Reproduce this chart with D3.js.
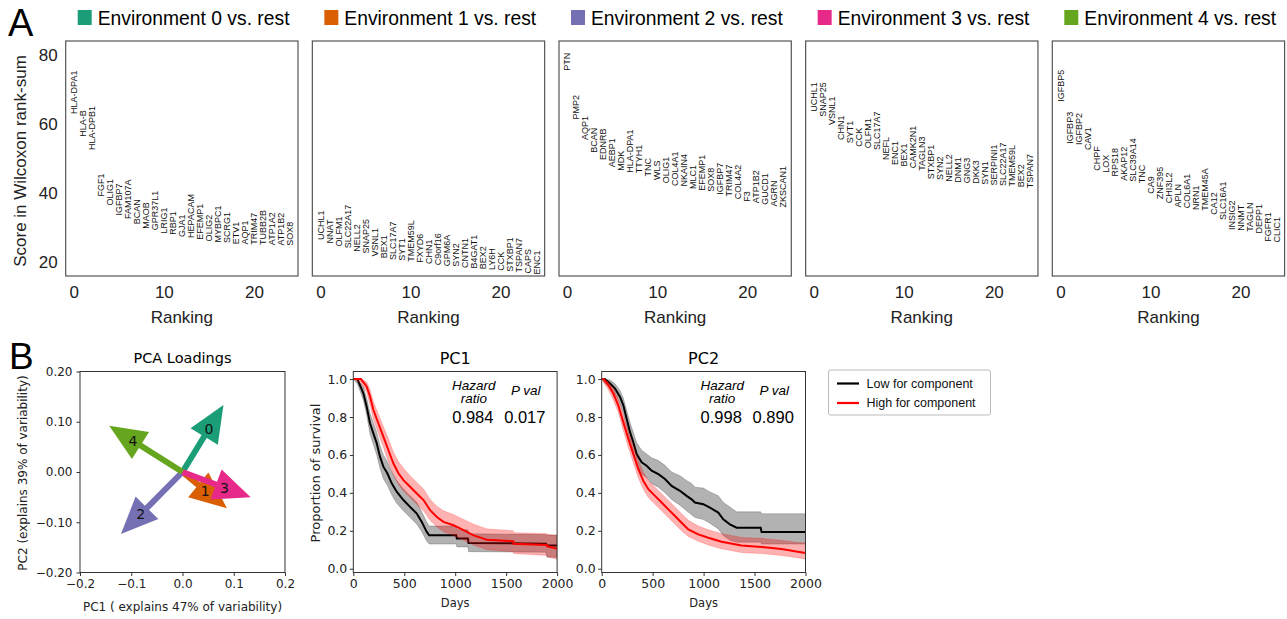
<!DOCTYPE html>
<html><head><meta charset="utf-8">
<script src="https://cdn.jsdelivr.net/npm/d3@7"></script>
<style>body{margin:0;background:#fff} svg{display:block}</style>
</head><body>
<script>
// ---------- DATA ----------
const envTitles = ["Environment 0 vs. rest","Environment 1 vs. rest","Environment 2 vs. rest","Environment 3 vs. rest","Environment 4 vs. rest"];
const envColors = ["#1b9e77","#d95f02","#7570b3","#e7298a","#66a61e"];

const genes0 = ["HLA-DPA1","HLA-B","HLA-DPB1","FGF1","OLIG1","IGFBP7","FAM107A","BCAN","MAOB","GPR37L1","LRIG1","RBP1","GJA1","HEPACAM","EFEMP1","OLIG2","MYBPC1","SCRG1","ETV1","AQP1","TRIM47","TUBB2B","ATP1A2","ATP1B2","SOX8"];
const scores0 = [62.9,56.3,52.4,38.9,36.3,33.4,32.4,30.9,29.6,29.1,28.2,27.8,27.2,26.9,26.4,25.9,25.6,25.4,25.1,25.0,24.9,24.85,24.8,24.7,24.6];
const genes1 = ["UCHL1","NNAT","OLFM1","SLC22A17","NELL2","SNAP25","VSNL1","BEX1","SLC17A7","SYT1","TMEM59L","FXYD6","CHN1","C9orf16","GPM6A","SYN2","CNTN1","B4GAT1","BEX2","LY6H","CCK","STXBP1","TSPAN7","CAPS","ENC1"];
const scores1 = [26.3,25.3,24.4,23.9,22.9,22.4,21.5,21.0,20.5,20.3,20.0,19.7,19.3,19.0,18.7,18.5,18.2,18.0,17.8,17.6,17.4,17.1,16.9,16.6,16.3];
const genes2 = ["PTN","PMP2","AQP1","BCAN","EDNRB","AEBP1","MDK","HLA-DPA1","TTYH1","TNC","WLS","OLIG1","COL4A1","NKAIN4","MLC1","EFEMP1","SOX8","IGFBP7","TRIM47","COL4A2","F3","ATP1B2","GUCD1","AGRN","ZKSCAN1"];
const scores2 = [75.4,61.3,55.3,51.6,49.5,47.4,46.4,45.8,45.7,44.7,43.7,42.8,42.0,41.8,41.1,40.6,40.3,39.4,38.9,38.1,37.4,37.0,36.5,36.0,35.7];
const genes3 = ["UCHL1","SNAP25","VSNL1","CHN1","SYT1","CCK","OLFM1","SLC17A7","NEFL","ENC1","BEX1","CAMK2N1","TAGLN3","STXBP1","SYN2","NELL2","DNM1","GNG3","DKK3","SYN1","SERPINI1","SLC22A17","TMEM59L","BEX2","TSPAN7"];
const scores3 = [63.5,62.1,59.7,55.3,54.4,53.4,52.9,52.4,49.5,48.1,47.6,47.1,46.4,43.9,43.7,43.2,42.9,42.8,42.6,42.3,42.1,42.0,41.8,41.6,41.3];
const genes4 = ["IGFBP5","IGFBP3","IGFBP2","CAV1","CHPF","LOX","RPS18","AKAP12","SLC39A14","TNC","CA9","ZNF395","CHI3L2","APLN","COL6A1","NRN1","TMEM45A","CA12","SLC16A1","INSIG2","NNMT","TAGLN","DEPP1","FGFR1","CLIC1"];
const scores4 = [66.4,54.2,53.9,52.4,46.4,45.8,44.7,43.5,43.2,42.8,39.7,38.1,37.0,35.7,35.5,35.0,34.8,33.6,32.1,29.2,29.0,28.7,28.2,25.8,25.6];

const rankTicks = [0,10,20];
const scoreTicks = [20,40,60,80];

// PCA loadings (PC1, PC2) per environment
const loadLabels = ["0","1","2","3","4"];
const loadPC1 = [0.0423, 0.0308, -0.0693, 0.0654, -0.082];
const loadPC2 = [0.0707, -0.0257, -0.0713, -0.0248, 0.0529];
const pcaTicksX = [-0.2,-0.1,0,0.1,0.2];
const pcaTicksY = [-0.2,-0.1,0,0.1,0.2];

// Survival (Kaplan-Meier) curves
const pc1LowDays = [0,40,98,131,164,197,230,262,295,334,377,426,492,557,623,672,721,745,1010,1016,1125,1131,1890,1900,2000];
const pc1LowSurv = [1,1,0.926,0.855,0.767,0.714,0.661,0.591,0.538,0.503,0.45,0.406,0.362,0.326,0.291,0.247,0.194,0.176,0.176,0.159,0.159,0.136,0.132,0.123,0.123];
const pc1LowLo   = [1,0.975,0.89,0.81,0.71,0.655,0.60,0.53,0.475,0.44,0.39,0.345,0.305,0.27,0.235,0.195,0.145,0.13,0.13,0.115,0.115,0.09,0.087,0.06,0.06];
const pc1LowHi   = [1,1,0.96,0.90,0.82,0.77,0.72,0.65,0.60,0.565,0.51,0.465,0.42,0.385,0.35,0.30,0.245,0.225,0.225,0.205,0.205,0.185,0.18,0.178,0.178];
const pc1HighDays = [0,75,131,164,197,246,295,344,393,443,492,557,623,689,754,820,885,984,1082,1180,1312,1570,1574,1900,1902,2000];
const pc1HighSurv = [1,1,0.961,0.908,0.838,0.767,0.697,0.626,0.556,0.503,0.467,0.432,0.397,0.362,0.309,0.273,0.247,0.229,0.203,0.176,0.153,0.145,0.132,0.125,0.118,0.106];
const pc1HighLo   = [1,0.98,0.93,0.865,0.79,0.715,0.64,0.565,0.495,0.445,0.41,0.375,0.34,0.305,0.255,0.22,0.195,0.175,0.15,0.125,0.10,0.09,0.08,0.07,0.065,0.05];
const pc1HighHi   = [1,1,0.985,0.945,0.88,0.815,0.75,0.685,0.615,0.565,0.53,0.49,0.455,0.42,0.365,0.33,0.305,0.285,0.26,0.235,0.21,0.20,0.19,0.185,0.18,0.175];

const pc2LowDays = [0,30,82,131,180,212,245,278,310,343,392,441,490,556,621,686,768,833,882,915,997,1062,1144,1193,1258,1324,1560,1569,2000];
const pc2LowSurv = [1,1,0.977,0.95,0.906,0.862,0.791,0.72,0.667,0.605,0.561,0.543,0.517,0.499,0.473,0.437,0.411,0.384,0.366,0.349,0.34,0.322,0.296,0.26,0.234,0.216,0.216,0.193,0.193];
const pc2LowLo   = [1,0.98,0.955,0.92,0.87,0.82,0.745,0.67,0.61,0.545,0.50,0.48,0.45,0.43,0.40,0.365,0.335,0.305,0.285,0.27,0.26,0.24,0.21,0.175,0.15,0.14,0.14,0.13,0.13];
const pc2LowHi   = [1,1,0.995,0.975,0.94,0.90,0.835,0.77,0.72,0.665,0.625,0.605,0.585,0.57,0.545,0.51,0.49,0.465,0.45,0.43,0.425,0.405,0.385,0.35,0.325,0.30,0.30,0.29,0.29];
const pc2HighDays = [0,20,65,114,163,212,261,310,359,408,458,523,588,654,719,784,850,948,1046,1176,1373,1569,1765,1895,2000];
const pc2HighSurv = [1,1,0.968,0.924,0.862,0.773,0.685,0.605,0.526,0.464,0.419,0.384,0.349,0.313,0.278,0.242,0.207,0.181,0.163,0.142,0.122,0.115,0.104,0.092,0.083];
const pc2HighLo   = [1,0.98,0.945,0.89,0.825,0.73,0.64,0.56,0.48,0.42,0.375,0.34,0.305,0.27,0.235,0.20,0.17,0.145,0.125,0.105,0.085,0.08,0.07,0.06,0.05];
const pc2HighHi   = [1,1,0.985,0.95,0.895,0.81,0.725,0.65,0.57,0.51,0.465,0.43,0.395,0.36,0.325,0.29,0.255,0.225,0.205,0.185,0.165,0.16,0.15,0.14,0.135];

const survStats = [
  {title:"PC1", hr:"0.984", p:"0.017"},
  {title:"PC2", hr:"0.998", p:"0.890"}
];
const dayTicks = [0,500,1000,1500,2000];
const survTicks = [0,0.2,0.4,0.6,0.8,1.0];
const legendLabels = ["Low for component","High for component"];
const legendColors = ["#000000","#ff0000"];

// ---------- DRAW ----------
const W = 1287, H = 619;
const SANS = "'Liberation Sans', Arial, Helvetica, sans-serif";
const DJ = "'DejaVu Sans', sans-serif";
const svg = d3.select("body").append("svg").attr("width", W).attr("height", H);

// Panel letters
svg.append("text").attr("x", 8).attr("y", 36).attr("font-family", SANS).attr("font-size", 38).text("A");
svg.append("text").attr("x", 9).attr("y", 369).attr("font-family", SANS).attr("font-size", 37).text("B");

// ----- Section A -----
const geneSets = [genes0, genes1, genes2, genes3, genes4];
const scoreSets = [scores0, scores1, scores2, scores3, scores4];
const pTop = 41, pBot = 276, pW = 232.3, pStep = 246.65, pLeft0 = 65.7;
const yScore = d3.scaleLinear().domain([15.85, 84.06]).range([pBot, pTop]);

geneSets.forEach((genes, p) => {
  const left = pLeft0 + p * pStep;
  const x = d3.scaleLinear().domain([-0.9, 24.9]).range([left, left + pW]);
  const g = svg.append("g");
  g.append("rect").attr("x", left + 12).attr("y", 10).attr("width", 14).attr("height", 15).attr("fill", envColors[p]);
  g.append("text").attr("x", left + 32).attr("y", 24.5).attr("font-family", SANS).attr("font-size", 19.3).attr("fill", "#000").text(envTitles[p]);
  g.append("rect").attr("x", left).attr("y", pTop).attr("width", pW).attr("height", pBot - pTop)
    .attr("fill", "none").attr("stroke", "#555").attr("stroke-width", 1.2);
  const ax = g.append("g").attr("transform", `translate(0,${pBot})`)
    .call(d3.axisBottom(x).tickValues(rankTicks).tickSize(0).tickPadding(10).tickFormat(d3.format("d")));
  ax.select(".domain").remove();
  ax.selectAll("text").attr("font-family", SANS).attr("font-size", 17).attr("fill", "#222");
  g.append("text").attr("x", left + pW / 2).attr("y", 323).attr("text-anchor", "middle")
    .attr("font-family", SANS).attr("font-size", 17).attr("fill", "#222").text("Ranking");
  if (p === 0) {
    const ay = g.append("g").attr("transform", `translate(${left},0)`)
      .call(d3.axisLeft(yScore).tickValues(scoreTicks).tickSize(0).tickPadding(8).tickFormat(d3.format("d")));
    ay.select(".domain").remove();
    ay.selectAll("text").attr("font-family", SANS).attr("font-size", 17).attr("fill", "#222");
    g.append("text").attr("transform", `translate(20,161) rotate(-90)`).attr("text-anchor", "middle")
      .attr("dy", "0.35em").attr("font-family", SANS).attr("font-size", 17).attr("fill", "#222")
      .text("Score in Wilcoxon rank-sum");
  }
  g.selectAll("text.gene").data(genes).join("text").attr("class", "gene")
    .attr("transform", (d, i) => `translate(${x(i)},${yScore(scoreSets[p][i])}) rotate(-90)`)
    .attr("dy", "0.35em").attr("text-anchor", "start")
    .attr("font-family", SANS).attr("font-size", 9).attr("fill", "#111").text(d => d);
});

// ----- Section B: PCA loadings -----
const bTop = 371.5, bBot = 572.5;
const pcaX = d3.scaleLinear().domain([-0.2, 0.2]).range([80, 285]);
const pcaY = d3.scaleLinear().domain([-0.2, 0.2]).range([bBot, bTop]);
{
  const g = svg.append("g");
  const axx = g.append("g").attr("transform", `translate(0,${bBot})`)
    .call(d3.axisBottom(pcaX).tickValues(pcaTicksX).tickSize(3.5).tickPadding(3).tickFormat(d3.format(".1f")));
  const axy = g.append("g").attr("transform", `translate(80,0)`)
    .call(d3.axisLeft(pcaY).tickValues(pcaTicksY).tickSize(3.5).tickPadding(4).tickFormat(d3.format(".2f")));
  [axx, axy].forEach(a => { a.select(".domain").remove(); a.selectAll("text").attr("font-family", DJ).attr("font-size", 12).attr("fill", "#222"); a.selectAll("line").attr("stroke", "#333"); });
  g.append("rect").attr("x", 80).attr("y", bTop).attr("width", 205).attr("height", bBot - bTop)
    .attr("fill", "none").attr("stroke", "#333").attr("stroke-width", 1);
  g.append("text").attr("x", 182.5).attr("y", 363).attr("text-anchor", "middle").attr("font-family", DJ).attr("font-size", 14.5).text("PCA Loadings");
  g.append("text").attr("x", 182.5).attr("y", 611).attr("text-anchor", "middle").attr("font-family", DJ).attr("font-size", 12).attr("fill", "#222").text("PC1 ( explains 47% of variability)");
  g.append("text").attr("transform", "translate(23,473) rotate(-90)").attr("text-anchor", "middle").attr("dy", "0.35em")
    .attr("font-family", DJ).attr("font-size", 12).attr("fill", "#222").text("PC2 (explains 39% of variability)");

  const ox = pcaX(0), oy = pcaY(0);
  const shaftHW = 3, headHW = 16, headLen = 37;
  loadLabels.forEach((lab, i) => {
    const bx = pcaX(loadPC1[i]), by = pcaY(loadPC2[i]);
    const dx = bx - ox, dy = by - oy, L = Math.hypot(dx, dy);
    const ux = dx / L, uy = dy / L, px = -uy, py = ux;
    const tip = [bx + ux * headLen, by + uy * headLen];
    const pts = [
      [ox + px * shaftHW, oy + py * shaftHW],
      [bx + px * shaftHW, by + py * shaftHW],
      [bx + px * headHW, by + py * headHW],
      tip,
      [bx - px * headHW, by - py * headHW],
      [bx - px * shaftHW, by - py * shaftHW],
      [ox - px * shaftHW, oy - py * shaftHW]
    ];
    g.append("polygon").attr("points", pts.map(d => d.join(",")).join(" ")).attr("fill", envColors[i]);
  });
  loadLabels.forEach((lab, i) => {
    const bx = pcaX(loadPC1[i]), by = pcaY(loadPC2[i]);
    const dx = bx - ox, dy = by - oy, L = Math.hypot(dx, dy);
    g.append("text").attr("x", bx + dx / L * 9).attr("y", by + dy / L * 9).attr("dy", "0.36em")
      .attr("text-anchor", "middle").attr("font-family", DJ).attr("font-size", 14).attr("fill", "#111").text(lab);
  });
}

// ----- Section B: survival -----
const survPanels = [
  {left: 353.3, low: [pc1LowDays, pc1LowSurv, pc1LowLo, pc1LowHi], high: [pc1HighDays, pc1HighSurv, pc1HighLo, pc1HighHi]},
  {left: 601.7, low: [pc2LowDays, pc2LowSurv, pc2LowLo, pc2LowHi], high: [pc2HighDays, pc2HighSurv, pc2HighLo, pc2HighHi]}
];
survPanels.forEach((sp, k) => {
  const sw = 203.8;
  const x = d3.scaleLinear().domain([0, 2000]).range([sp.left, sp.left + sw]);
  const y = d3.scaleLinear().domain([-0.02, 1.04]).range([bBot, bTop]);
  const g = svg.append("g");
  const clipId = "clip" + k;
  g.append("clipPath").attr("id", clipId).append("rect").attr("x", sp.left).attr("y", bTop).attr("width", sw).attr("height", bBot - bTop);
  const plot = g.append("g").attr("clip-path", `url(#${clipId})`);
  const drawGroup = (arr, color) => {
    const [days, surv, lo, hi] = arr;
    const rows = days.map((d, i) => ({d, s: surv[i], lo: lo[i], hi: hi[i]}));
    const area = d3.area().x(r => x(r.d)).y0(r => y(r.lo)).y1(r => y(r.hi));
    const line = d3.line().x(r => x(r.d)).y(r => y(r.s));
    plot.append("path").datum(rows).attr("d", area).attr("fill", color).attr("fill-opacity", 0.3)
      .attr("stroke", color).attr("stroke-opacity", 0.2).attr("stroke-width", 1);
    plot.append("path").datum(rows).attr("d", line).attr("fill", "none").attr("stroke", color)
      .attr("stroke-width", 2).attr("stroke-linejoin", "miter");
  };
  drawGroup(sp.low, legendColors[0]);
  drawGroup(sp.high, legendColors[1]);

  const axx = g.append("g").attr("transform", `translate(0,${bBot})`)
    .call(d3.axisBottom(x).tickValues(dayTicks).tickSize(3.5).tickPadding(3).tickFormat(d3.format("d")));
  const axy = g.append("g").attr("transform", `translate(${sp.left},0)`)
    .call(d3.axisLeft(y).tickValues(survTicks).tickSize(3.5).tickPadding(2.5).tickFormat(d3.format(".1f")));
  [axx, axy].forEach(a => { a.select(".domain").remove(); a.selectAll("text").attr("font-family", DJ).attr("font-size", 12.5).attr("fill", "#222"); a.selectAll("line").attr("stroke", "#333"); });
  g.append("rect").attr("x", sp.left).attr("y", bTop).attr("width", sw).attr("height", bBot - bTop)
    .attr("fill", "none").attr("stroke", "#333").attr("stroke-width", 1);
  g.append("text").attr("x", sp.left + sw / 2).attr("y", 364).attr("text-anchor", "middle").attr("font-family", DJ).attr("font-size", 16).text(survStats[k].title);
  g.append("text").attr("x", sp.left + sw / 2).attr("y", 607).attr("text-anchor", "middle").attr("font-family", DJ).attr("font-size", 11.5).attr("fill", "#222").text("Days");
  if (k === 0) {
    g.append("text").attr("transform", `translate(315,473) rotate(-90)`).attr("text-anchor", "middle").attr("dy", "0.35em")
      .attr("font-family", DJ).attr("font-size", 13).attr("fill", "#222").text("Proportion of survival");
  }
  const hx = sp.left + 120.5, pxx = sp.left + 172.5;
  g.append("text").attr("x", hx).attr("y", 390).attr("text-anchor", "middle").attr("font-family", SANS).attr("font-style", "italic").attr("font-size", 13.5).text("Hazard");
  g.append("text").attr("x", hx).attr("y", 403).attr("text-anchor", "middle").attr("font-family", SANS).attr("font-style", "italic").attr("font-size", 13.5).text("ratio");
  g.append("text").attr("x", hx - 1).attr("y", 423).attr("text-anchor", "middle").attr("font-family", SANS).attr("font-size", 16.5).text(survStats[k].hr);
  g.append("text").attr("x", pxx).attr("y", 395).attr("text-anchor", "middle").attr("font-family", SANS).attr("font-style", "italic").attr("font-size", 13.5).text("P val");
  g.append("text").attr("x", pxx - 1).attr("y", 423).attr("text-anchor", "middle").attr("font-family", SANS).attr("font-size", 16.5).text(survStats[k].p);
});

// Legend
{
  const g = svg.append("g");
  g.append("rect").attr("x", 828.5).attr("y", 370).attr("width", 162).attr("height", 45).attr("rx", 2)
    .attr("fill", "#fff").attr("stroke", "#bbb").attr("stroke-width", 1);
  legendLabels.forEach((lab, i) => {
    const yy = 383.5 + i * 19.5;
    g.append("line").attr("x1", 837).attr("x2", 859).attr("y1", yy).attr("y2", yy).attr("stroke", legendColors[i]).attr("stroke-width", 2.2);
    g.append("text").attr("x", 866.5).attr("y", yy).attr("dy", "0.35em").attr("font-family", SANS).attr("font-size", 12.5).attr("fill", "#111").text(lab);
  });
}
</script>
</body></html>
